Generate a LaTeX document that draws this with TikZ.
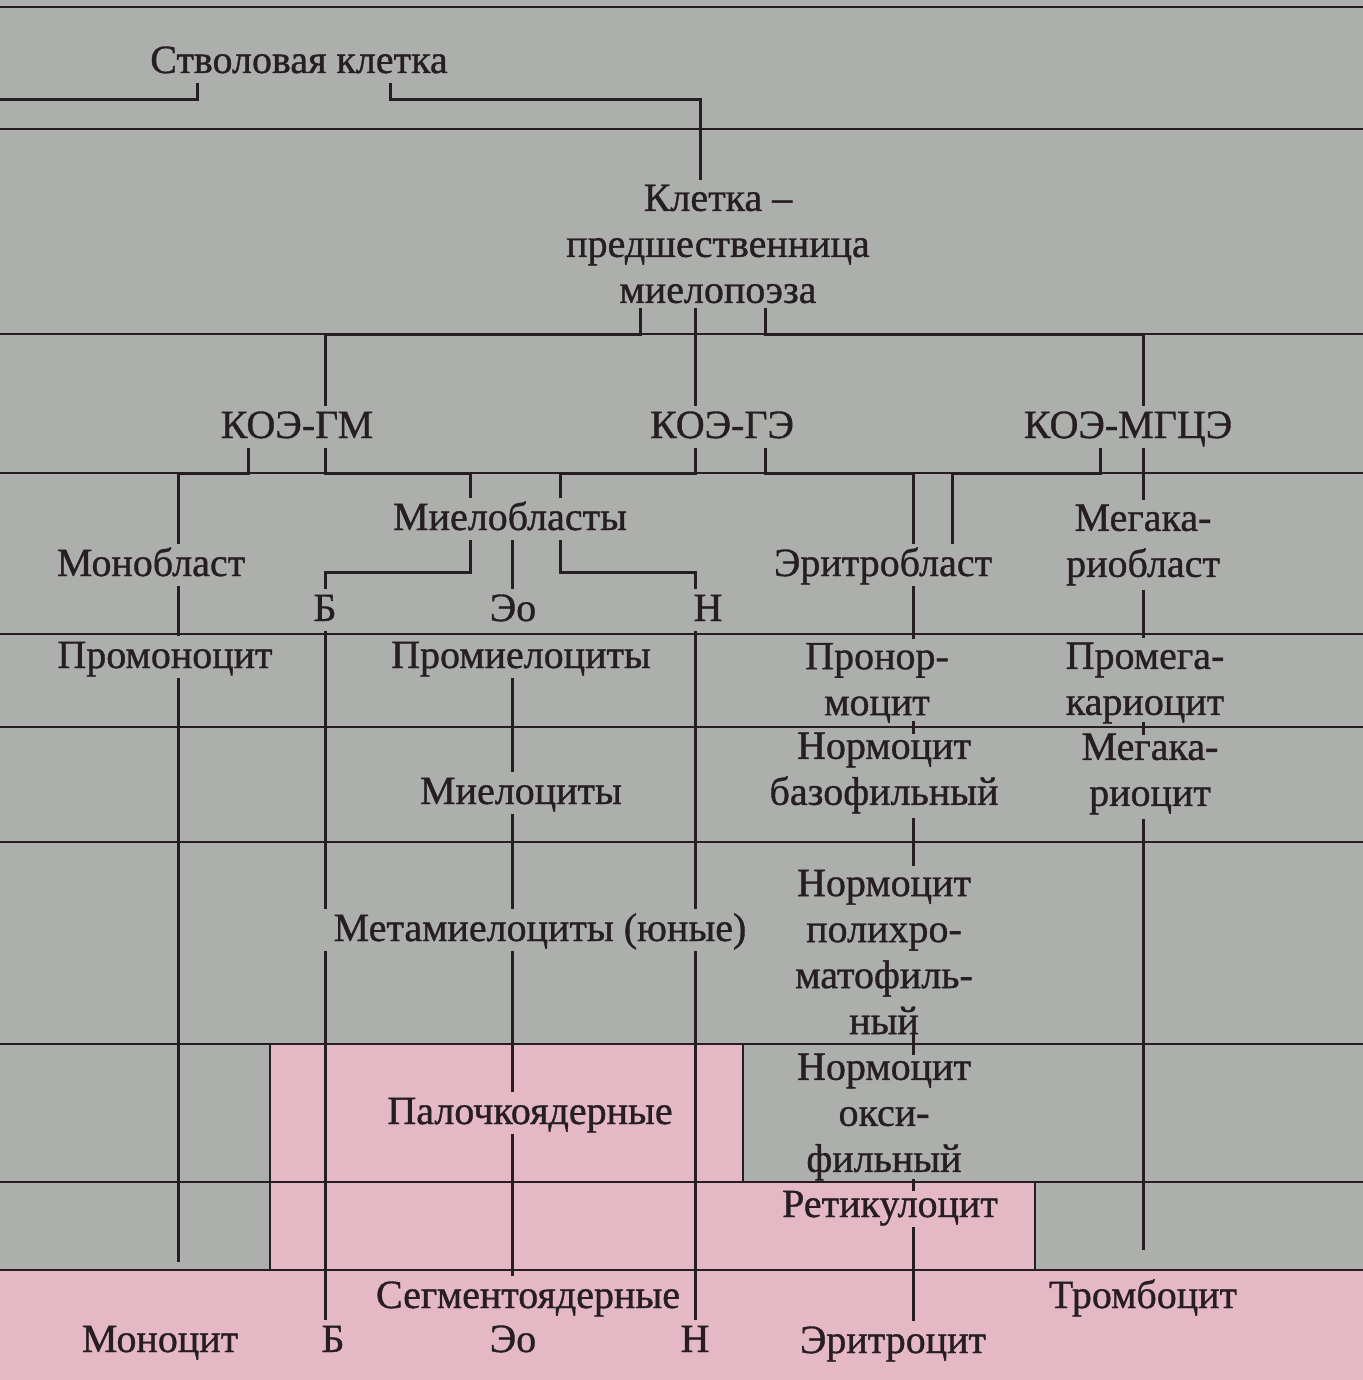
\documentclass[tikz,border=0pt]{standalone}
\usepackage{fontspec}
\setmainfont{Liberation Serif}[FakeBold=0.9]
\definecolor{bg}{RGB}{173,175,173}
\definecolor{pinkbg}{RGB}{228,184,196}
\definecolor{ink}{RGB}{38,30,32}
\begin{document}
\begin{tikzpicture}[x=0.5pt,y=-0.5pt,
  lbl/.style={inner sep=2pt, text=ink, font=\fontsize{20}{23}\selectfont, align=center},
  one/.style={lbl, text height=14pt, text depth=3pt},
  gridline/.style={draw=ink, line width=1.1pt},
  conn/.style={draw=ink, line width=1.5pt},
  over/.style={shorten <=-3pt, shorten >=-3pt}]
\useasboundingbox (0,0) rectangle (1363,1380);
% backgrounds
\fill[bg] (0,0) rectangle (1363,1380);
\fill[pinkbg] (0,1270) rectangle (1363,1380);
\fill[pinkbg] (270,1044) rectangle (743,1270);
\fill[pinkbg] (743,1182) rectangle (1035,1270);
% grid
\foreach \yy in {7,129,334,473,634,727,842,1044,1182,1270}
  \draw[gridline] (0,\yy) -- (1363,\yy);
\draw[gridline] (270,1270) -- (270,1044);
\draw[gridline] (743,1044) -- (743,1182);
\draw[gridline] (1035,1182) -- (1035,1270);
% nodes
\node[one] (stem) at (299,62) {Стволовая клетка};
\node[lbl] (kp) at (718,244) {Клетка –\\предшественница\\миелопоэза};
\node[one] (kgm) at (297,427) {КОЭ-ГМ};
\node[one] (kge) at (722,427) {КОЭ-ГЭ};
\node[one] (kmg) at (1128,427) {КОЭ-МГЦЭ};
\node[one] (monobl) at (151,565) {Монобласт};
\node[one] (myelobl) at (510,519) {Миелобласты};
\node[one] (erybl) at (883,565) {Эритробласт};
\node[lbl] (megabl) at (1143,545) {Мегака-\\риобласт};
\node[one] (b1) at (325,610) {Б};
\node[one] (eo1) at (513,610) {Эо};
\node[one] (n1) at (708,610) {Н};
\node[one] (promono) at (165,657) {Промоноцит};
\node[one] (promyelo) at (521,657) {Промиелоциты};
\node[lbl] (pronorm) at (877,683) {Пронор-\\моцит};
\node[lbl] (promega) at (1145,683) {Промега-\\кариоцит};
\node[one] (myelo) at (521,793) {Миелоциты};
\node[lbl] (normbaso) at (884,773) {Нормоцит\\базофильный};
\node[lbl] (megakar) at (1150,774) {Мегака-\\риоцит};
\node[one] (meta) at (540,930) {Метамиелоциты (юные)};
\node[lbl] (normpoly) at (884,952) {Нормоцит\\полихро-\\матофиль-\\ный};
\node[one] (palo) at (530,1113) {Палочкоядерные};
\node[lbl] (normoxy) at (884,1117) {Нормоцит\\окси-\\фильный};
\node[one] (retic) at (890,1206) {Ретикулоцит};
\node[one] (segm) at (528,1297) {Сегментоядерные};
\node[one] (thromb) at (1143,1297) {Тромбоцит};
\node[one] (mono) at (160,1341) {Моноцит};
\node[one] (b2) at (333,1341) {Б};
\node[one] (eo2) at (513,1341) {Эо};
\node[one] (n2) at (695,1341) {Н};
\node[one] (ery) at (893,1342) {Эритроцит};
% connectors
\coordinate (lft) at (0,100);
\draw[conn] (lft) -| (stem.south -| 197,0);
\draw[conn] (stem.south -| 390,0) |- (700,100) -- (kp.north -| 700,0);
\draw[conn] (kp.south -| 640,0) |- (325,334) -- (kgm.north -| 325,0);
\draw[conn] (kp.south -| 695,0) -- (kge.north -| 695,0);
\draw[conn] (kp.south -| 765,0) |- (1143,334) -- (kmg.north -| 1143,0);
\draw[conn] (kgm.south -| 248,0) |- (178,473) -- (monobl.north -| 178,0);
\draw[conn] (kgm.south -| 325,0) |- (470,473) -- (myelobl.north -| 470,0);
\draw[conn] (kge.south -| 695,0) |- (560,473) -- (myelobl.north -| 560,0);
\draw[conn] (kge.south -| 765,0) |- (913,473) -- (erybl.north -| 913,0);
\draw[conn] (kmg.south -| 1100,0) |- (952,473) -- (erybl.north -| 952,0);
\draw[conn] (kmg.south -| 1143,0) -- (megabl.north -| 1143,0);
% monocyte line
\draw[conn] (monobl.south -| 178,0) -- (promono.north -| 178,0);
\draw[conn, shorten >=29pt] (promono.south -| 178,0) -- (mono.north -| 178,0);
% granulocytes
\draw[conn] (myelobl.south -| 470,0) |- (325,572) -- (b1.north -| 325,0);
\draw[conn] (myelobl.south -| 512,0) -- (eo1.north -| 512,0);
\draw[conn] (myelobl.south -| 560,0) |- (695,572) -- (n1.north -| 695,0);
\draw[conn] (b1.south -| 325,0) -- (meta.north -| 325,0);
\draw[conn] (meta.south -| 325,0) -- (b2.north -| 325,0);
\draw[conn] (n1.south -| 695,0) -- (meta.north -| 695,0);
\draw[conn] (meta.south -| 695,0) -- (n2.north -| 695,0);
\draw[conn] (promyelo.south -| 512,0) -- (myelo.north -| 512,0);
\draw[conn] (myelo.south -| 512,0) -- (meta.north -| 512,0);
\draw[conn] (meta.south -| 512,0) -- (palo.north -| 512,0);
\draw[conn] (palo.south -| 512,0) -- (segm.north -| 512,0);
% erythrocytes
\draw[conn] (erybl.south -| 913,0) -- (pronorm.north -| 913,0);
\draw[conn, over] (pronorm.south -| 913,0) -- (normbaso.north -| 913,0);
\draw[conn] (normbaso.south -| 913,0) -- (normpoly.north -| 913,0);
\draw[conn, over] (normpoly.south -| 913,0) -- (normoxy.north -| 913,0);
\draw[conn, over] (normoxy.south -| 913,0) -- (retic.north -| 913,0);
\draw[conn] (retic.south -| 913,0) -- (ery.north -| 913,0);
% megakaryocytes
\draw[conn] (megabl.south -| 1143,0) -- (promega.north -| 1143,0);
\draw[conn, over] (promega.south -| 1143,0) -- (megakar.north -| 1143,0);
\draw[conn, shorten >=13pt] (megakar.south -| 1143,0) -- (thromb.north -| 1143,0);
\end{tikzpicture}
\end{document}
